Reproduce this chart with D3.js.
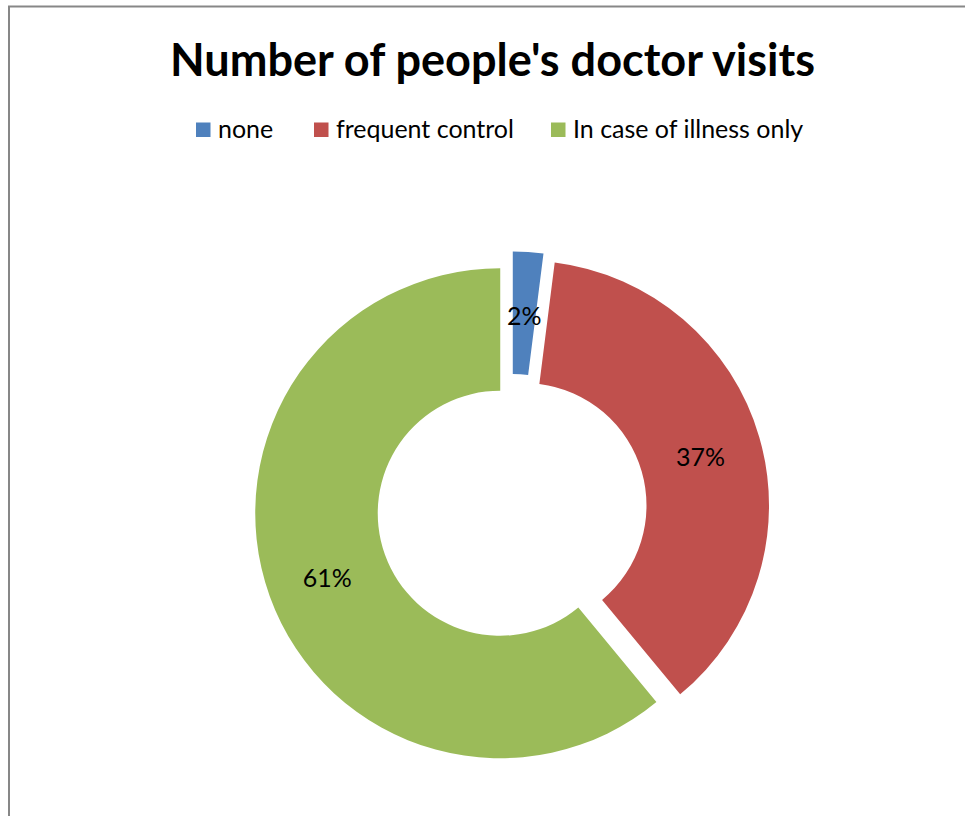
<!DOCTYPE html>
<html>
<head>
<meta charset="utf-8">
<script src="https://cdn.jsdelivr.net/npm/d3@7"></script>
<style>
  html, body { margin: 0; padding: 0; background: #fff; }
  svg { display: block; }
  text { font-family: Lato, "Open Sans", "Liberation Sans", sans-serif; }
</style>
</head>
<body>
<svg id="chart" width="965" height="816"></svg>
<script>
// Survey answers (percent of respondents)
const categories = ["none", "frequent control", "In case of illness only"];
const values = [2, 37, 61];
const colors = ["#4F81BD", "#C0504D", "#9BBB59"];
const title = "Number of people's doctor visits";

const W = 965, H = 816;
const svg = d3.select("#chart");

// chart frame (left and top edges visible)
svg.append("rect")
  .attr("x", 9).attr("y", 6.5)
  .attr("width", 1200).attr("height", 1200)
  .attr("fill", "#fff")
  .attr("stroke", "#878787")
  .attr("stroke-width", 2);

// scale a text's font size so its rendered width matches a target
function fitWidth(sel, target) {
  const node = sel.node();
  const fs = parseFloat(sel.attr("font-size"));
  const w = node.getComputedTextLength();
  sel.attr("font-size", fs * target / w);
  return sel;
}

// title
const t = svg.append("text")
  .attr("x", 492.5).attr("y", 76)
  .attr("text-anchor", "middle")
  .attr("font-weight", "bold")
  .attr("font-size", 40)
  .attr("fill", "#000")
  .text(title);
fitWidth(t, 645);

// legend
const legendX = [196, 314, 551];
const legend = svg.append("g");
let legendSize = 26;
{
  const probe = svg.append("text").attr("font-size", 26).text(categories[1]);
  legendSize = 26 * 178 / probe.node().getComputedTextLength();
  probe.remove();
}
categories.forEach((c, i) => {
  const g = legend.append("g").attr("transform", `translate(${legendX[i]},0)`);
  g.append("rect")
    .attr("x", 0).attr("y", 122.5)
    .attr("width", 14.5).attr("height", 14.5)
    .attr("fill", colors[i]);
  g.append("text")
    .attr("x", 22).attr("y", 137.5)
    .attr("font-size", legendSize)
    .attr("fill", "#000")
    .text(c);
});

// doughnut
const cx = 512, cy = 509;
const outerR = 245, innerR = 122.5, explode = 12.5;

const pie = d3.pie().sort(null).value(d => d)(values);
const arc = d3.arc().innerRadius(innerR).outerRadius(outerR);
const labelArc = d3.arc().innerRadius((innerR + outerR) / 2).outerRadius((innerR + outerR) / 2);

const donut = svg.append("g").attr("transform", `translate(${cx},${cy})`);

const slices = donut.selectAll("g.slice")
  .data(pie)
  .join("g")
  .attr("class", "slice")
  .attr("transform", d => {
    const a = (d.startAngle + d.endAngle) / 2;
    return `translate(${explode * Math.sin(a)},${-explode * Math.cos(a)})`;
  });

slices.append("path")
  .attr("d", arc)
  .attr("fill", (d, i) => colors[i]);

slices.append("text")
  .attr("transform", d => `translate(${labelArc.centroid(d)})`)
  .attr("text-anchor", "middle")
  .attr("dy", "0.46em")
  .attr("font-size", legendSize)
  .attr("fill", "#000")
  .text(d => d.data + "%");
</script>
</body>
</html>
